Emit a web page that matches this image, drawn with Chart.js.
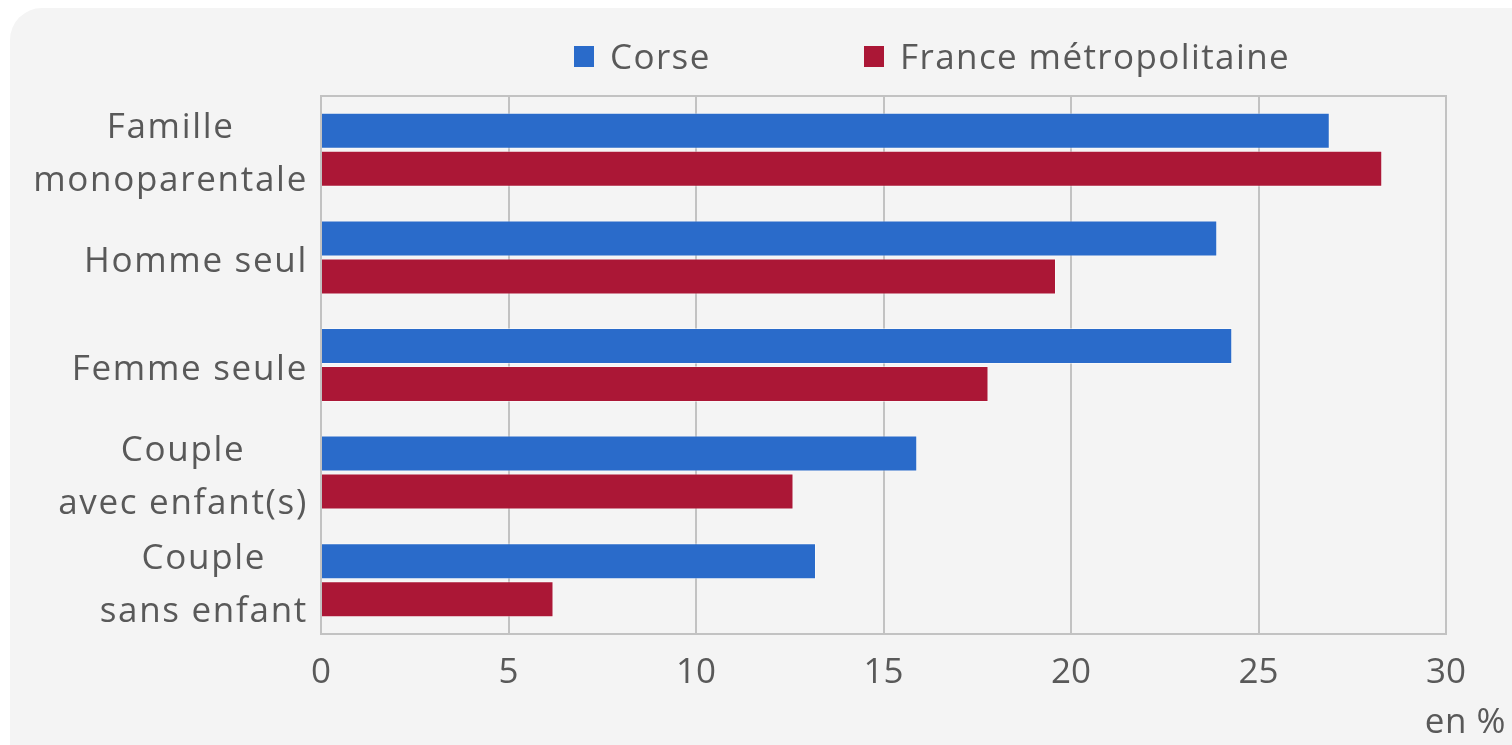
<!DOCTYPE html>
<html lang="fr">
<head>
<meta charset="utf-8">
<title>Ménages pauvres selon le type de ménage</title>
<script src="https://cdn.jsdelivr.net/npm/chart.js@4.4.1/dist/chart.umd.min.js"></script>
<style>
  html, body { margin: 0; padding: 0; background: #fff; overflow: hidden; }
  .card {
    position: absolute; left: 10px; top: 8px;
    width: 1560px; height: 800px;
    background: #f4f4f4; border-radius: 32px;
  }
  #chart { position: absolute; left: 0; top: 0; }
  .legend-item {
    position: absolute; top: 37px;
    font-family: 'Open Sans', sans-serif; font-size: 35px; line-height: 38px;
    letter-spacing: 1.4px;
    color: #595959; display: flex; align-items: center; white-space: nowrap;
  }
  .legend-item .box { display: inline-block; width: 20px; height: 21px; margin-right: 16px; }
</style>
</head>
<body>
<div class="card"></div>
<canvas id="chart" width="1512" height="745"></canvas>
<div class="legend-item" style="left:574px"><span class="box" style="background:#2a6bca"></span>Corse</div>
<div class="legend-item" style="left:864px"><span class="box" style="background:#ab1736"></span>France métropolitaine</div>

<script>
// Data
const categories = [
  ['Famille', 'monoparentale'],
  ['Homme seul'],
  ['Femme seule'],
  ['Couple', 'avec enfant(s)'],
  ['Couple', 'sans enfant']
];
const corse = [26.9, 23.9, 24.3, 15.9, 13.2];
const franceMetro = [28.3, 19.6, 17.8, 12.6, 6.2];
const xMin = 0;
const xMax = 30;
const xStep = 5;
const unitLabel = 'en %';

const textColor = '#595959';
const gridColor = '#c2c2c2';
const fontFamily = "'Open Sans', sans-serif";

// Box round the plot area (top and right sides included)
const plotBorder = {
  id: 'plotBorder',
  beforeDatasetsDraw(chart) {
    const { ctx, chartArea } = chart;
    ctx.save();
    ctx.strokeStyle = gridColor;
    ctx.lineWidth = 2;
    ctx.strokeRect(chartArea.left, chartArea.top, chartArea.right - chartArea.left, chartArea.bottom - chartArea.top);
    ctx.restore();
  }
};

// Category labels: lines centred on each other, block right-aligned to the axis
const categoryLabels = {
  id: 'categoryLabels',
  afterDraw(chart) {
    const { ctx, chartArea, scales: { y } } = chart;
    ctx.save();
    ctx.font = '35px ' + fontFamily;
    ctx.fillStyle = textColor;
    ctx.letterSpacing = '1.7px';
    ctx.textAlign = 'center';
    ctx.textBaseline = 'middle';
    categories.forEach((lines, i) => {
      const widest = Math.max(...lines.map(l => ctx.measureText(l).width));
      const cx = chartArea.left - 13 - widest / 2;
      const cy = y.getPixelForValue(i) + 5;
      lines.forEach((line, j) => {
        ctx.fillText(line, cx, cy + (j - (lines.length - 1) / 2) * 53);
      });
    });
    // unit under the last tick
    ctx.letterSpacing = '0.5px';
    ctx.textAlign = 'right';
    ctx.fillText(unitLabel, chart.width - 6, chartArea.bottom + 89);
    ctx.restore();
  }
};

new Chart(document.getElementById('chart'), {
  type: 'bar',
  data: {
    labels: categories,
    datasets: [
      {
        label: 'Corse',
        data: corse,
        backgroundColor: '#2a6bca',
        borderColor: 'rgba(255,255,255,0.45)',
        borderWidth: 1
      },
      {
        label: 'France métropolitaine',
        data: franceMetro,
        backgroundColor: '#ab1736',
        borderColor: 'rgba(255,255,255,0.45)',
        borderWidth: 1
      }
    ]
  },
  options: {
    indexAxis: 'y',
    responsive: false,
    animation: false,
    devicePixelRatio: 1,
    categoryPercentage: 0.706,
    barPercentage: 0.947,
    layout: {
      padding: { left: 321, top: 96, right: 66, bottom: 0 }
    },
    scales: {
      x: {
        min: xMin,
        max: xMax,
        afterFit: function(scale) {
          scale.height = 111;
        },
        ticks: {
          stepSize: xStep,
          padding: 18,
          color: textColor,
          font: { family: fontFamily, size: 35 }
        },
        grid: {
          color: gridColor,
          lineWidth: 2,
          drawTicks: false
        },
        border: { display: false }
      },
      y: {
        display: false
      }
    },
    plugins: {
      legend: { display: false },
      tooltip: { enabled: false }
    }
  },
  plugins: [plotBorder, categoryLabels]
});
</script>
</body>
</html>
